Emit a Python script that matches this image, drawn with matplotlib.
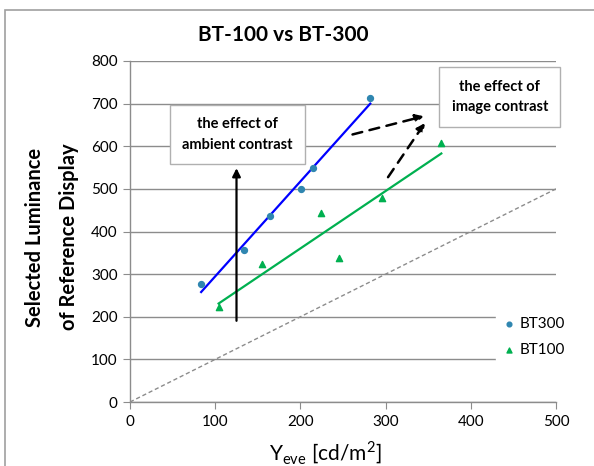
import numpy as np
import matplotlib
matplotlib.use("Agg")
import matplotlib.pyplot as plt
from matplotlib.patches import Rectangle

plt.rcParams['font.family'] = ['Lato', 'DejaVu Sans']

# data
bt300_x = [83.5, 133.8, 164.3, 200.3, 214.4, 282.0]
bt300_y = [277, 357, 436, 500, 550, 714]
bt100_x = [104.0, 155.3, 224.2, 244.9, 295.8, 365.4]
bt100_y = [223, 324, 443, 338, 478, 608]

# trend line end points (as drawn in the original)
bt300_fit_x = [83.5, 282.0]
bt300_fit_y = [258, 700]
bt100_fit_x = [104.0, 365.4]
bt100_fit_y = [231, 583]

x_ticks = [0, 100, 200, 300, 400, 500]
y_ticks = [0, 100, 200, 300, 400, 500, 600, 700, 800]

W, H = 594, 466
fig = plt.figure(figsize=(W / 100, H / 100), dpi=100)
ax = fig.add_axes([130 / W, 1 - 402 / H, (556 - 130) / W, (402 - 61) / H])

# outer frame
fig.patches.append(Rectangle((5 / W, -0.1), 1.2, 1 - 10 / H + 0.1, transform=fig.transFigure,
                             fill=False, edgecolor='#a0a0a0', linewidth=1.2))

grid_c = '#8c8c8c'
ax.set_xlim(0, 500)
ax.set_ylim(0, 800)
ax.set_xticks(x_ticks)
ax.set_yticks(y_ticks)
ax.yaxis.grid(True, color=grid_c, linewidth=1.0)
ax.set_axisbelow(True)
for s in ['top', 'right']:
    ax.spines[s].set_visible(False)
for s in ['left', 'bottom']:
    ax.spines[s].set_color(grid_c)
    ax.spines[s].set_linewidth(1.0)
ax.tick_params(axis='both', direction='out', length=5, color=grid_c, labelsize=11, pad=4)

# y = x reference
ax.plot([0, 500], [0, 500], linestyle=(0, (3, 2)), color='#8c8c8c', linewidth=1.0)

ax.plot(bt300_fit_x, bt300_fit_y, color='#0000ff', linewidth=1.6)
ax.plot(bt100_fit_x, bt100_fit_y, color='#00b050', linewidth=1.6)

ax.scatter(bt300_x, bt300_y, marker='o', s=18, color='#2f86b0', zorder=3, label='BT300')
ax.scatter(bt100_x, bt100_y, marker='^', s=20, color='#00b050', zorder=3, label='BT100')

# arrows
ax.annotate('', xy=(125, 555), xytext=(125, 184),
            arrowprops=dict(arrowstyle='-|>', color='black', lw=1.6, mutation_scale=12))
ax.annotate('', xy=(348, 672), xytext=(258, 626),
            arrowprops=dict(arrowstyle='-|>', color='black', lw=1.8, linestyle=(0, (4, 3)),
                            mutation_scale=12))
ax.annotate('', xy=(348, 660), xytext=(301, 522),
            arrowprops=dict(arrowstyle='-|>', color='black', lw=1.8, linestyle=(0, (4, 3)),
                            mutation_scale=12))

box = dict(boxstyle='square,pad=0.85', facecolor='white', edgecolor='#b0b0b0', linewidth=1.0)
ax.text(126, 628, 'the effect of\nambient contrast', ha='center', va='center', fontsize=10.5,
        fontweight='bold', linespacing=1.6, bbox=box, zorder=5)
ax.text(434, 716, 'the effect of\nimage contrast', ha='center', va='center', fontsize=10.5,
        fontweight='bold', linespacing=1.6, bbox=box, zorder=5, clip_on=False)

leg = ax.legend(loc='center left', bbox_to_anchor=(488 / W, 1 - 337 / H),
                bbox_transform=fig.transFigure, frameon=True, fontsize=11,
                handletextpad=0.1, labelspacing=0.8, borderpad=0.3, handlelength=1.2,
                markerscale=0.8)
leg.get_frame().set_edgecolor('white')
leg.get_frame().set_facecolor('white')
leg.get_frame().set_alpha(1)

fig.text(283 / W, 1 - 35 / H, 'BT-100 vs BT-300', ha='center', va='center',
         fontsize=15, fontweight='bold')
fig.text(52 / W, 1 - 237 / H, 'Selected Luminance\nof Reference Display', rotation=90,
         ha='center', va='center', fontsize=14.5, fontweight='bold', linespacing=1.85)
fig.text(325 / W, 1 - 453 / H, r'Y$_{\mathregular{eve}}$ [cd/m$^{\mathregular{2}}$]',
         ha='center', va='center', fontsize=15)

fig.savefig('out.png', dpi=100)
